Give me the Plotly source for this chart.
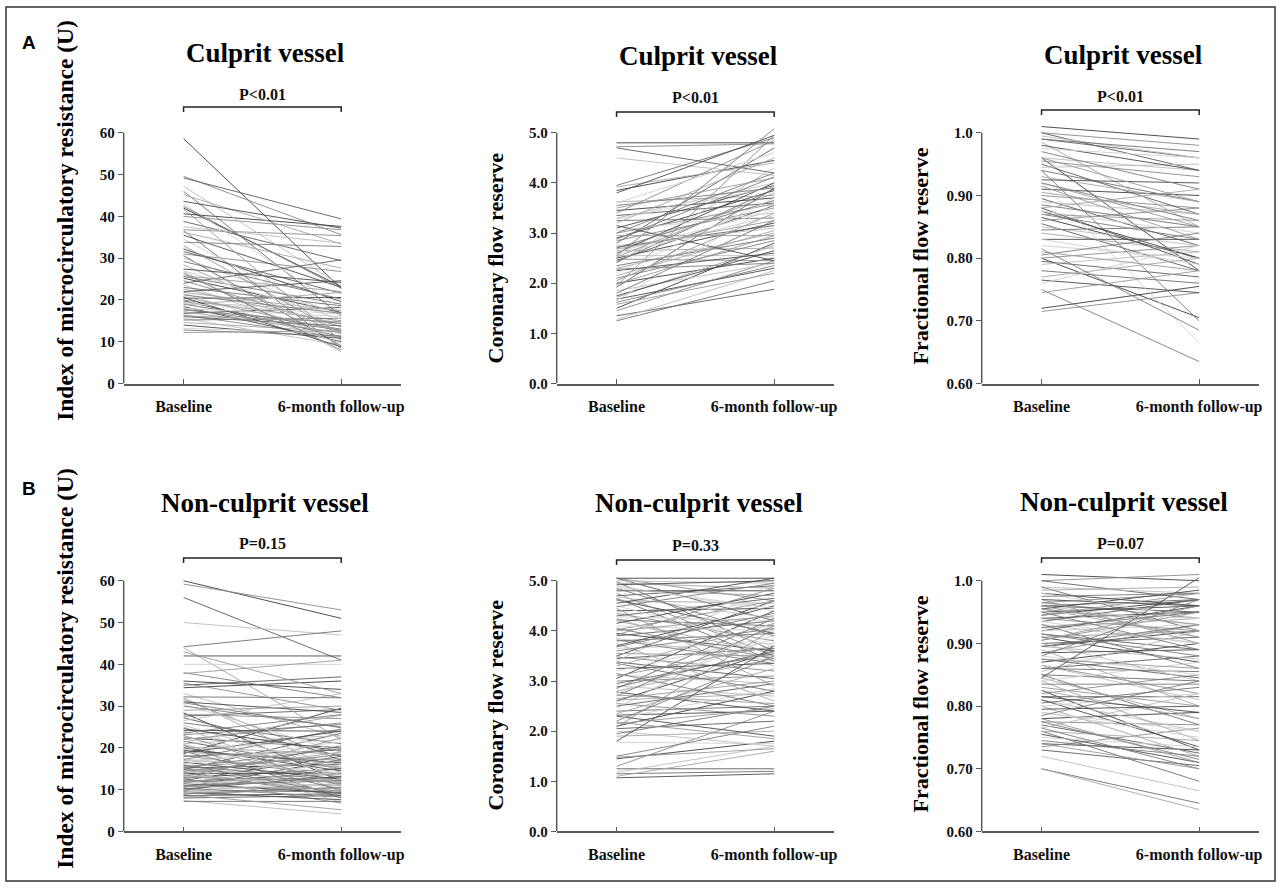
import plotly.graph_objects as go

W, H = 1282, 892

# ---------------- data (estimated) ----------------
categories = ["Baseline", "6-month follow-up"]

imr_culprit_base = [
    58.6, 49.6, 49.2, 47.2, 46.0, 45.2, 43.6, 43.0, 42.4, 41.8,
    40.6, 40.0, 38.8, 37.5, 36.6, 36.2, 35.5, 34.6, 33.8, 33.0,
    32.2, 31.0, 30.6, 30.0, 29.2, 28.4, 27.4, 27.0, 26.4, 25.8,
    25.2, 24.6, 24.0, 23.6, 23.0, 22.6, 22.0, 21.6, 21.2, 20.8,
    20.4, 20.0, 19.8, 19.4, 19.0, 18.8, 18.4, 18.0, 17.6, 17.2,
    16.8, 16.4, 16.0, 15.6, 15.2, 14.6, 14.0, 13.2, 12.8, 12.2,
    42.0, 36.8, 31.6, 26.8, 25.6, 21.8, 20.6, 19.2, 17.8, 16.2,
]
imr_culprit_fu = [
    22.8, 35.6, 39.4, 23.4, 16.2, 33.4, 37.2, 18.0, 22.8, 10.2,
    37.6, 36.8, 29.4, 33.6, 8.4, 27.6, 23.0, 14.6, 32.8, 12.0,
    19.6, 26.8, 9.0, 16.4, 20.2, 11.8, 24.2, 15.4, 8.0, 22.0,
    17.0, 13.6, 29.6, 10.6, 18.6, 14.2, 24.6, 9.6, 16.8, 12.6,
    20.6, 15.0, 11.2, 17.6, 13.0, 21.8, 10.0, 16.0, 14.4, 12.2,
    18.2, 11.0, 13.8, 9.2, 15.6, 12.4, 10.8, 12.0, 11.4, 12.6,
    23.2, 35.4, 21.6, 7.6, 19.0, 17.4, 8.8, 16.6, 12.8, 14.8,
]

cfr_culprit_base = [
    4.80, 4.72, 4.70, 4.50, 3.95, 3.92, 3.80, 3.60, 3.55, 3.50,
    3.45, 3.40, 3.35, 3.30, 3.25, 3.20, 3.10, 3.05, 3.00, 2.95,
    2.90, 2.85, 2.80, 2.75, 2.70, 2.65, 2.60, 2.58, 2.55, 2.52,
    2.50, 2.48, 2.45, 2.40, 2.35, 2.30, 2.25, 2.20, 2.10, 2.05,
    2.00, 1.95, 1.92, 1.85, 1.80, 1.72, 1.68, 1.65, 1.62, 1.58,
    1.50, 1.45, 1.35, 1.28, 1.25, 3.62, 3.15, 2.62, 2.28, 1.98,
    3.85, 3.00, 2.72, 2.55, 2.42, 2.15, 1.75, 3.28, 2.88, 2.68,
]
cfr_culprit_fu = [
    4.80, 4.78, 4.20, 4.15, 4.90, 4.40, 4.95, 4.60, 3.90, 4.10,
    3.70, 4.85, 3.60, 4.00, 3.30, 4.50, 3.95, 3.40, 4.20, 2.95,
    3.85, 3.50, 4.70, 3.10, 3.65, 2.70, 4.00, 3.35, 5.08, 3.80,
    3.20, 2.45, 3.55, 4.30, 2.90, 3.00, 2.60, 3.70, 2.85, 3.40,
    2.50, 4.95, 3.90, 2.40, 3.25, 2.75, 2.30, 3.60, 2.35, 2.20,
    2.80, 2.45, 1.88, 2.25, 2.05, 3.75, 2.45, 3.45, 2.40, 2.95,
    4.45, 3.58, 3.15, 2.55, 3.88, 3.05, 2.65, 3.92, 4.12, 3.25,
]

ffr_culprit_base = [
    1.01, 1.00, 1.00, 0.995, 0.99, 0.985, 0.98, 0.975, 0.97, 0.96,
    0.96, 0.955, 0.95, 0.945, 0.94, 0.93, 0.925, 0.92, 0.92, 0.915,
    0.91, 0.90, 0.895, 0.89, 0.885, 0.88, 0.88, 0.875, 0.87, 0.87,
    0.865, 0.86, 0.855, 0.85, 0.845, 0.84, 0.83, 0.82, 0.815, 0.81,
    0.80, 0.80, 0.795, 0.79, 0.78, 0.77, 0.765, 0.76, 0.75, 0.745,
    0.72, 0.715, 0.99, 0.96, 0.94, 0.905, 0.875, 0.83, 0.805, 0.92,
]
ffr_culprit_fu = [
    0.99, 0.98, 0.94, 0.96, 0.97, 0.85, 0.94, 0.96, 0.91, 0.89,
    0.78, 0.93, 0.87, 0.95, 0.70, 0.89, 0.92, 0.665, 0.86, 0.83,
    0.90, 0.88, 0.82, 0.87, 0.85, 0.91, 0.79, 0.84, 0.83, 0.86,
    0.80, 0.88, 0.78, 0.82, 0.85, 0.81, 0.83, 0.80, 0.685, 0.78,
    0.705, 0.82, 0.77, 0.81, 0.76, 0.80, 0.745, 0.82, 0.635, 0.78,
    0.755, 0.745, 0.96, 0.94, 0.89, 0.87, 0.80, 0.79, 0.84, 0.85,
]

imr_nonculprit_base = [
    60.0, 59.2, 56.0, 50.0, 44.2, 44.0, 42.0, 40.0, 38.0, 37.8,
    36.0, 35.5, 35.0, 33.0, 32.2, 32.0, 31.0, 30.4, 30.0, 29.0,
    28.4, 28.0, 27.2, 26.5, 26.0, 25.0, 24.2, 24.0, 23.6, 23.0,
    22.4, 22.0, 21.6, 21.0, 20.6, 20.2, 20.0, 19.6, 19.2, 19.0,
    18.6, 18.2, 18.0, 17.6, 17.2, 17.0, 16.6, 16.2, 16.0, 15.6,
    15.2, 15.0, 14.8, 14.6, 14.2, 14.0, 13.8, 13.6, 13.2, 13.0,
    12.8, 12.6, 12.2, 12.0, 11.8, 11.6, 11.4, 11.2, 11.0, 10.8,
    10.6, 10.4, 10.2, 10.0, 9.8, 9.6, 9.4, 9.2, 9.0, 8.8,
    8.6, 8.2, 8.0, 7.4, 7.2, 21.4, 18.8, 16.8, 14.4, 12.4,
    34.4, 31.6, 27.6, 25.4, 23.2, 20.8, 19.4, 17.4, 15.4, 13.4,
    12.0, 11.0, 10.0, 9.0, 15.8, 14.0, 24.6, 22.8, 30.8, 43.0,
]
imr_nonculprit_fu = [
    51.0, 53.0, 41.0, 47.0, 48.0, 22.0, 42.0, 40.0, 32.0, 41.0,
    34.0, 29.0, 37.0, 22.5, 32.0, 14.0, 28.5, 19.0, 25.0, 30.0,
    12.0, 27.0, 18.0, 33.0, 21.0, 9.5, 24.0, 16.0, 28.0, 11.0,
    20.0, 26.0, 15.0, 23.0, 8.0, 18.5, 14.5, 22.0, 10.0, 17.0,
    29.5, 13.0, 19.5, 7.0, 24.5, 15.5, 12.5, 21.5, 9.0, 17.5,
    16.0, 11.5, 23.5, 13.5, 8.5, 19.0, 14.0, 10.5, 20.5, 12.0,
    15.0, 6.8, 18.0, 11.0, 13.0, 16.5, 9.2, 14.2, 12.2, 10.2,
    17.2, 8.2, 13.2, 11.2, 15.2, 9.8, 7.6, 12.6, 10.6, 5.2,
    9.0, 11.6, 8.6, 4.2, 7.2, 27.8, 24.0, 20.0, 18.4, 22.4,
    36.0, 17.0, 29.2, 14.8, 25.6, 11.6, 16.4, 14.0, 19.8, 9.6,
    13.8, 12.8, 9.4, 10.4, 12.2, 16.8, 19.2, 13.6, 24.8, 33.0,
]

cfr_nonculprit_base = [
    5.05, 5.05, 5.05, 5.00, 4.98, 4.95, 4.92, 4.90, 4.85, 4.82,
    4.80, 4.75, 4.70, 4.68, 4.65, 4.60, 4.55, 4.50, 4.48, 4.45,
    4.40, 4.35, 4.30, 4.25, 4.22, 4.20, 4.15, 4.10, 4.05, 4.00,
    3.95, 3.92, 3.90, 3.85, 3.80, 3.75, 3.70, 3.65, 3.60, 3.55,
    3.50, 3.48, 3.45, 3.40, 3.35, 3.30, 3.25, 3.20, 3.15, 3.10,
    3.05, 3.00, 2.95, 2.90, 2.85, 2.80, 2.78, 2.75, 2.70, 2.65,
    2.60, 2.55, 2.50, 2.45, 2.40, 2.35, 2.30, 2.25, 2.20, 2.15,
    2.10, 2.08, 2.05, 2.00, 1.95, 1.90, 1.80, 1.78, 1.50, 1.48,
    1.45, 1.30, 1.25, 1.18, 1.15, 1.10, 1.07, 4.28, 3.82, 2.72,
    4.62, 4.02, 3.38, 3.12, 2.88, 2.62, 2.32, 4.88, 3.68, 2.18,
]
cfr_nonculprit_fu = [
    5.05, 4.60, 4.20, 4.95, 3.60, 4.85, 5.00, 4.40, 3.90, 4.70,
    4.80, 3.50, 4.90, 4.25, 3.40, 4.55, 5.05, 3.70, 4.95, 2.90,
    4.45, 3.80, 4.65, 3.30, 4.10, 3.55, 4.75, 4.00, 3.45, 4.30,
    3.60, 4.85, 4.20, 3.40, 3.95, 2.60, 4.50, 3.75, 4.05, 3.50,
    4.60, 3.20, 3.65, 4.90, 2.80, 4.15, 3.35, 3.90, 2.50, 3.70,
    4.40, 3.10, 3.55, 2.70, 4.25, 3.45, 2.40, 3.85, 4.10, 3.00,
    3.60, 2.30, 2.95, 4.15, 2.50, 3.25, 1.90, 2.85, 3.50, 2.45,
    2.80, 4.05, 2.20, 1.70, 2.50, 2.00, 3.70, 1.75, 2.10, 1.65,
    1.80, 2.40, 1.25, 1.70, 1.20, 1.60, 1.15, 4.20, 3.35, 2.55,
    3.95, 4.60, 3.05, 2.95, 3.60, 2.75, 2.40, 4.45, 4.35, 1.85,
]

ffr_nonculprit_base = [
    1.01, 1.00, 1.00, 0.99, 0.99, 0.985, 0.98, 0.98, 0.975, 0.97,
    0.97, 0.965, 0.96, 0.96, 0.96, 0.955, 0.95, 0.95, 0.95, 0.945,
    0.94, 0.94, 0.935, 0.93, 0.93, 0.925, 0.92, 0.92, 0.915, 0.91,
    0.91, 0.905, 0.90, 0.90, 0.895, 0.89, 0.885, 0.88, 0.88, 0.875,
    0.87, 0.865, 0.86, 0.855, 0.85, 0.845, 0.845, 0.84, 0.835, 0.83,
    0.825, 0.82, 0.815, 0.81, 0.805, 0.80, 0.795, 0.79, 0.785, 0.78,
    0.78, 0.775, 0.77, 0.765, 0.76, 0.76, 0.755, 0.75, 0.745, 0.74,
    0.74, 0.735, 0.73, 0.72, 0.70, 0.70, 0.955, 0.935, 0.925, 0.905,
    0.895, 0.885, 0.875, 0.865, 0.85, 0.825, 0.81, 0.79, 0.775, 0.955,
    0.945, 0.965, 0.915, 0.895, 0.86, 0.84, 0.815, 0.80, 0.765, 0.96,
]
ffr_nonculprit_fu = [
    1.00, 1.01, 0.97, 0.98, 0.92, 0.99, 0.96, 0.94, 0.98, 0.90,
    0.96, 0.98, 0.95, 0.93, 0.97, 0.91, 0.96, 0.94, 0.89, 0.98,
    0.95, 0.92, 0.97, 0.90, 0.86, 0.94, 0.96, 0.93, 0.88, 0.92,
    0.87, 0.95, 0.91, 0.84, 0.93, 0.80, 0.89, 0.85, 0.97, 0.86,
    0.90, 0.82, 0.88, 0.92, 0.84, 0.78, 1.005, 0.87, 0.835, 0.80,
    0.73, 0.85, 0.815, 0.76, 0.83, 0.72, 0.80, 0.75, 0.84, 0.71,
    0.79, 0.77, 0.725, 0.82, 0.68, 0.745, 0.71, 0.735, 0.72, 0.70,
    0.73, 0.765, 0.705, 0.665, 0.645, 0.635, 0.985, 0.90, 0.95, 0.96,
    0.92, 0.93, 0.845, 0.81, 0.77, 0.78, 0.735, 0.76, 0.715, 0.93,
    0.97, 0.94, 0.89, 0.875, 0.855, 0.745, 0.79, 0.82, 0.70, 0.91,
]

imr_ticks = [0, 10, 20, 30, 40, 50, 60]
imr_ticktext = ["0", "10", "20", "30", "40", "50", "60"]
cfr_ticks = [0.0, 1.0, 2.0, 3.0, 4.0, 5.0]
cfr_ticktext = ["0.0", "1.0", "2.0", "3.0", "4.0", "5.0"]
ffr_ticks = [0.60, 0.70, 0.80, 0.90, 1.0]
ffr_ticktext = ["0.60", "0.70", "0.80", "0.90", "1.0"]

# ---------------- layout helpers (pixel geometry) ----------------
def px(xp):
    return xp / W

def py(yp):
    return 1 - yp / H

SERIF = "Liberation Serif, Times New Roman, serif"
AXC = "#5a5a5a"
grays = ["#3c3c3c", "#8a8a8a", "#5c5c5c", "#bcbcbc", "#6f6f6f",
         "#a6a6a6", "#4a4a4a", "#cfcfcf", "#7c7c7c", "#999999"]

col_x0 = [124, 558, 984]
row_geom = [(387, 134), (839, 586)]   # (pixel of axis min, pixel of axis max)
PLOT_W = 278
TICK0 = 60
TICK_SP = 158
HEAD = 0.03

panels = [
    dict(base=imr_culprit_base, fu=imr_culprit_fu, lo=0, hi=60, tv=imr_ticks, tt=imr_ticktext,
         r=0, c=0, title="Culprit vessel", p="P<0.01",
         ylab="Index of microcirculatory resistance (U)", ylab_xy=(65, 222), ylab_size=23.5,
         t_xy=(266, 53), p_y=95, br_y=108),
    dict(base=cfr_culprit_base, fu=cfr_culprit_fu, lo=0, hi=5, tv=cfr_ticks, tt=cfr_ticktext,
         r=0, c=1, title="Culprit vessel", p="P<0.01",
         ylab="Coronary flow reserve", ylab_xy=(497, 260), ylab_size=22,
         t_xy=(700, 57), p_y=98, br_y=113),
    dict(base=ffr_culprit_base, fu=ffr_culprit_fu, lo=0.6, hi=1.0, tv=ffr_ticks, tt=ffr_ticktext,
         r=0, c=2, title="Culprit vessel", p="P<0.01",
         ylab="Fractional flow reserve", ylab_xy=(923, 258), ylab_size=22,
         t_xy=(1126, 55), p_y=97, br_y=111),
    dict(base=imr_nonculprit_base, fu=imr_nonculprit_fu, lo=0, hi=60, tv=imr_ticks, tt=imr_ticktext,
         r=1, c=0, title="Non-culprit vessel", p="P=0.15",
         ylab="Index of microcirculatory resistance (U)", ylab_xy=(65, 674), ylab_size=23.5,
         t_xy=(266, 508), p_y=548, br_y=563),
    dict(base=cfr_nonculprit_base, fu=cfr_nonculprit_fu, lo=0, hi=5, tv=cfr_ticks, tt=cfr_ticktext,
         r=1, c=1, title="Non-culprit vessel", p="P=0.33",
         ylab="Coronary flow reserve", ylab_xy=(497, 711), ylab_size=22,
         t_xy=(701, 508), p_y=550, br_y=565),
    dict(base=ffr_nonculprit_base, fu=ffr_nonculprit_fu, lo=0.6, hi=1.0, tv=ffr_ticks, tt=ffr_ticktext,
         r=1, c=2, title="Non-culprit vessel", p="P=0.07",
         ylab="Fractional flow reserve", ylab_xy=(923, 710), ylab_size=22,
         t_xy=(1127, 507), p_y=548, br_y=563),
]

fig = go.Figure()
layout = dict(width=W, height=H, margin=dict(l=0, r=0, t=0, b=0),
              paper_bgcolor="white", plot_bgcolor="white", showlegend=False)
annotations = []
shapes = []

xr = [-TICK0 / TICK_SP, (PLOT_W - TICK0) / TICK_SP]

for i, P in enumerate(panels):
    n = i + 1
    xa = "x" if n == 1 else f"x{n}"
    ya = "y" if n == 1 else f"y{n}"
    x0p = col_x0[P["c"]]
    pb, pt = row_geom[P["r"]]
    top_px = pb - (pb - pt) * (1 + HEAD)
    yr = [P["lo"], P["hi"] + HEAD * (P["hi"] - P["lo"])]

    # lines grouped by gray shade
    groups = {}
    for k, (b, f) in enumerate(zip(P["base"], P["fu"])):
        g = k % len(grays)
        gx, gy = groups.setdefault(g, ([], []))
        gx += [0, 1, None]
        gy += [b, f, None]
    for g, (gx, gy) in groups.items():
        fig.add_trace(go.Scatter(x=gx, y=gy, mode="lines", xaxis=xa, yaxis=ya,
                                 line=dict(color=grays[g], width=0.9),
                                 hoverinfo="skip", connectgaps=False))

    layout["xaxis" if n == 1 else f"xaxis{n}"] = dict(
        domain=[px(x0p), px(x0p + PLOT_W)], range=xr, anchor=ya,
        tickvals=[0, 1], ticktext=categories, ticks="inside", ticklen=5,
        tickcolor=AXC, tickwidth=1.3, showline=True, linecolor=AXC, linewidth=1.5,
        showgrid=False, zeroline=False, fixedrange=True, ticklabelstandoff=8,
        tickfont=dict(family=SERIF, size=16, color="#111", weight="bold"))
    layout["yaxis" if n == 1 else f"yaxis{n}"] = dict(
        domain=[py(pb), py(top_px)], range=yr, anchor=xa,
        tickvals=P["tv"], ticktext=P["tt"], ticks="outside", ticklen=5,
        tickcolor=AXC, tickwidth=1.3, showline=False,
        showgrid=False, zeroline=False, fixedrange=True,
        tickfont=dict(family=SERIF, size=15, color="#111", weight="bold"))

    # y axis line from min to max tick
    shapes.append(dict(type="line", xref=f"{xa} domain", yref=ya, x0=0, x1=0,
                       y0=P["lo"], y1=P["hi"], line=dict(color=AXC, width=1.5)))

    # bracket
    by = P["br_y"]
    bx0 = x0p + TICK0
    bx1 = x0p + TICK0 + TICK_SP
    shapes.append(dict(type="path", xref="paper", yref="paper",
                       path=f"M {px(bx0)} {py(by + 5)} L {px(bx0)} {py(by)} L {px(bx1)} {py(by)} L {px(bx1)} {py(by + 5)}",
                       line=dict(color="#222", width=1.5)))

    annotations.append(dict(text=P["p"], x=px((bx0 + bx1) / 2), y=py(P["p_y"]),
                            xref="paper", yref="paper", showarrow=False,
                            xanchor="center", yanchor="middle",
                            font=dict(family=SERIF, size=16, color="#111", weight="bold")))
    annotations.append(dict(text=P["title"], x=px(P["t_xy"][0]), y=py(P["t_xy"][1]),
                            xref="paper", yref="paper", showarrow=False,
                            xanchor="center", yanchor="middle",
                            font=dict(family=SERIF, size=27, color="#000", weight="bold")))
    annotations.append(dict(text=P["ylab"], x=px(P["ylab_xy"][0]), y=py(P["ylab_xy"][1]),
                            xref="paper", yref="paper", showarrow=False, textangle=-90,
                            xanchor="center", yanchor="middle",
                            font=dict(family=SERIF, size=P["ylab_size"], color="#000", weight="bold")))

# panel letters
for letter, yy in [("A", 43), ("B", 493)]:
    annotations.append(dict(text=letter, x=px(29), y=py(yy), xref="paper", yref="paper",
                            showarrow=False, xanchor="center", yanchor="middle",
                            font=dict(family="Liberation Sans, Arial, sans-serif", size=19,
                                      color="#000", weight="bold")))

# outer frame
shapes.append(dict(type="rect", xref="paper", yref="paper",
                   x0=px(6), x1=px(1278), y0=py(889), y1=py(7),
                   line=dict(color="#333", width=1.5)))

layout["annotations"] = annotations
layout["shapes"] = shapes
fig.update_layout(**layout)

fig.write_html("out.html", post_script="document.body.style.margin='0';",
               config={"displayModeBar": False})
